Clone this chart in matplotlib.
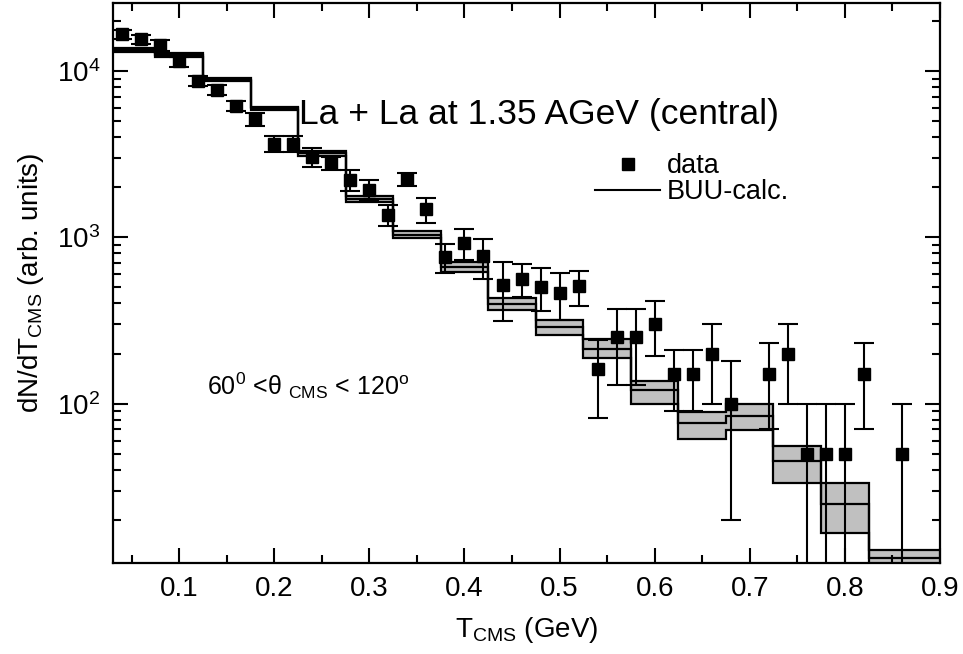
import numpy as np
import matplotlib
matplotlib.use('Agg')
import matplotlib.pyplot as plt
from matplotlib.lines import Line2D
from matplotlib.ticker import MultipleLocator, LogLocator, LogFormatterMathtext, NullFormatter

plt.rcParams['font.family'] = ['Liberation Sans', 'DejaVu Sans']
plt.rcParams['mathtext.fontset'] = 'custom'
plt.rcParams['mathtext.rm'] = 'Liberation Sans'
plt.rcParams['mathtext.it'] = 'Liberation Sans:italic'
plt.rcParams['mathtext.bf'] = 'Liberation Sans:bold'

# ---- measured data points ----
t_data = [0.04, 0.06, 0.08, 0.10, 0.12, 0.14, 0.16, 0.18, 0.20, 0.22,
          0.24, 0.26, 0.28, 0.30, 0.32, 0.34, 0.36, 0.38, 0.40, 0.42,
          0.44, 0.46, 0.48, 0.50, 0.52, 0.54, 0.56, 0.58, 0.60, 0.62,
          0.64, 0.66, 0.68, 0.72, 0.74, 0.76, 0.78, 0.80, 0.82, 0.86]
y_data = [16600, 15500, 14300, 11400, 8700, 7650, 6150, 5150, 3650, 3650,
          3050, 2780, 2220, 1930, 1370, 2230, 1470, 760, 925, 770,
          515, 565, 505, 463, 508, 162, 250, 250, 302, 150,
          150, 200, 100, 150, 200, 50, 50, 50, 150, 50]
y_err = [950, 1000, 1050, 800, 600, 530, 420, 460, 390, 390,
         400, 260, 310, 280, 200, 205, 250, 150, 195, 205,
         200, 130, 145, 145, 120, 80, 120, 120, 110, 60,
         60, 100, 80, 80, 100, 50, 50, 50, 80, 50]

# ---- BUU calculation (histogram, 0.05 GeV bins) ----
buu_centers = [0.05, 0.10, 0.15, 0.20, 0.25, 0.30, 0.35, 0.40, 0.45,
               0.50, 0.55, 0.60, 0.65, 0.70, 0.75, 0.80, 0.85, 0.90]
buu_mid = [13300, 12500, 8850, 5950, 3190, 1700, 1035, 664, 398,
           287, 214, 120, 76, 84, 45, 25, 11.8, 11.8]
buu_low = [13000, 12200, 8650, 5800, 3080, 1630, 985, 615, 364,
           260, 189, 100, 61, 69, 33.5, 16.7, 10.0, 10.0]
buu_high = [13700, 12800, 9050, 6100, 3310, 1775, 1095, 711, 433,
            317, 243, 137, 89, 100, 56, 33.5, 13.2, 13.2]
bin_width = 0.05

x_ticks_major = [0.1, 0.2, 0.3, 0.4, 0.5, 0.6, 0.7, 0.8, 0.9]

fig = plt.figure(figsize=(9.63, 6.54), dpi=100)
ax = fig.add_axes([0.117, 0.139, 0.859, 0.8564])

centers = np.array(buu_centers)
edges = np.append(centers - bin_width / 2, centers[-1] + bin_width / 2)

ax.stairs(buu_high, edges, baseline=buu_low, fill=True, color='#c0c0c0', zorder=1)
for vals in (buu_high, buu_low, buu_mid):
    ax.stairs(vals, edges, baseline=None, color='black', lw=1.6, zorder=2)

ax.errorbar(t_data, y_data, yerr=y_err, fmt='s', color='black', ms=8.5,
            capsize=7.5, elinewidth=1.5, capthick=1.5, zorder=3)

ax.set_yscale('log')
ax.set_xlim(0.03, 0.9)
ax.set_ylim(11, 25600)

ax.xaxis.set_major_locator(MultipleLocator(0.1))
ax.xaxis.set_minor_locator(MultipleLocator(0.05))
ax.set_xticks(x_ticks_major)
ax.set_xticklabels([f'{v:.1f}' for v in x_ticks_major])
ax.yaxis.set_major_locator(LogLocator(base=10))
ax.yaxis.set_minor_locator(LogLocator(base=10, subs=np.arange(2, 10)))
ax.yaxis.set_minor_formatter(NullFormatter())
ax.yaxis.set_major_formatter(LogFormatterMathtext())

ax.tick_params(which='both', direction='in', top=True, right=True, width=1.5,
               labelsize=20)
ax.tick_params(which='major', length=11, pad=9)
ax.tick_params(which='minor', length=6)
for s in ax.spines.values():
    s.set_linewidth(1.6)

ax.set_xlabel(r'T$_{\mathrm{CMS}}$ (GeV)', fontsize=20, labelpad=10)
ax.set_ylabel(r'dN/dT$_{\mathrm{CMS}}$ (arb. units)', fontsize=20, labelpad=8)

fig.text(299 / 963, 1 - 124 / 654, 'La + La at 1.35 AGeV (central)',
         fontsize=25.5, ha='left', va='baseline')
fig.text(207 / 963, 1 - 395 / 654, r'60$^0$ <θ $_{\mathrm{CMS}}$ < 120$^{\mathrm{o}}$',
         fontsize=18, ha='left', va='baseline')

handles = [Line2D([], [], marker='s', ls='none', color='black', ms=8.5),
           Line2D([], [], color='black', lw=1.5)]
ax.legend(handles, ['data', 'BUU-calc.'], loc='upper left',
          bbox_to_anchor=(595 / 963, 1 - 153 / 654), bbox_transform=fig.transFigure,
          frameon=False, fontsize=19.5, handlelength=2.4, handletextpad=0.25,
          labelspacing=0.0, borderpad=0, borderaxespad=0)

fig.savefig('out.png', dpi=100)
